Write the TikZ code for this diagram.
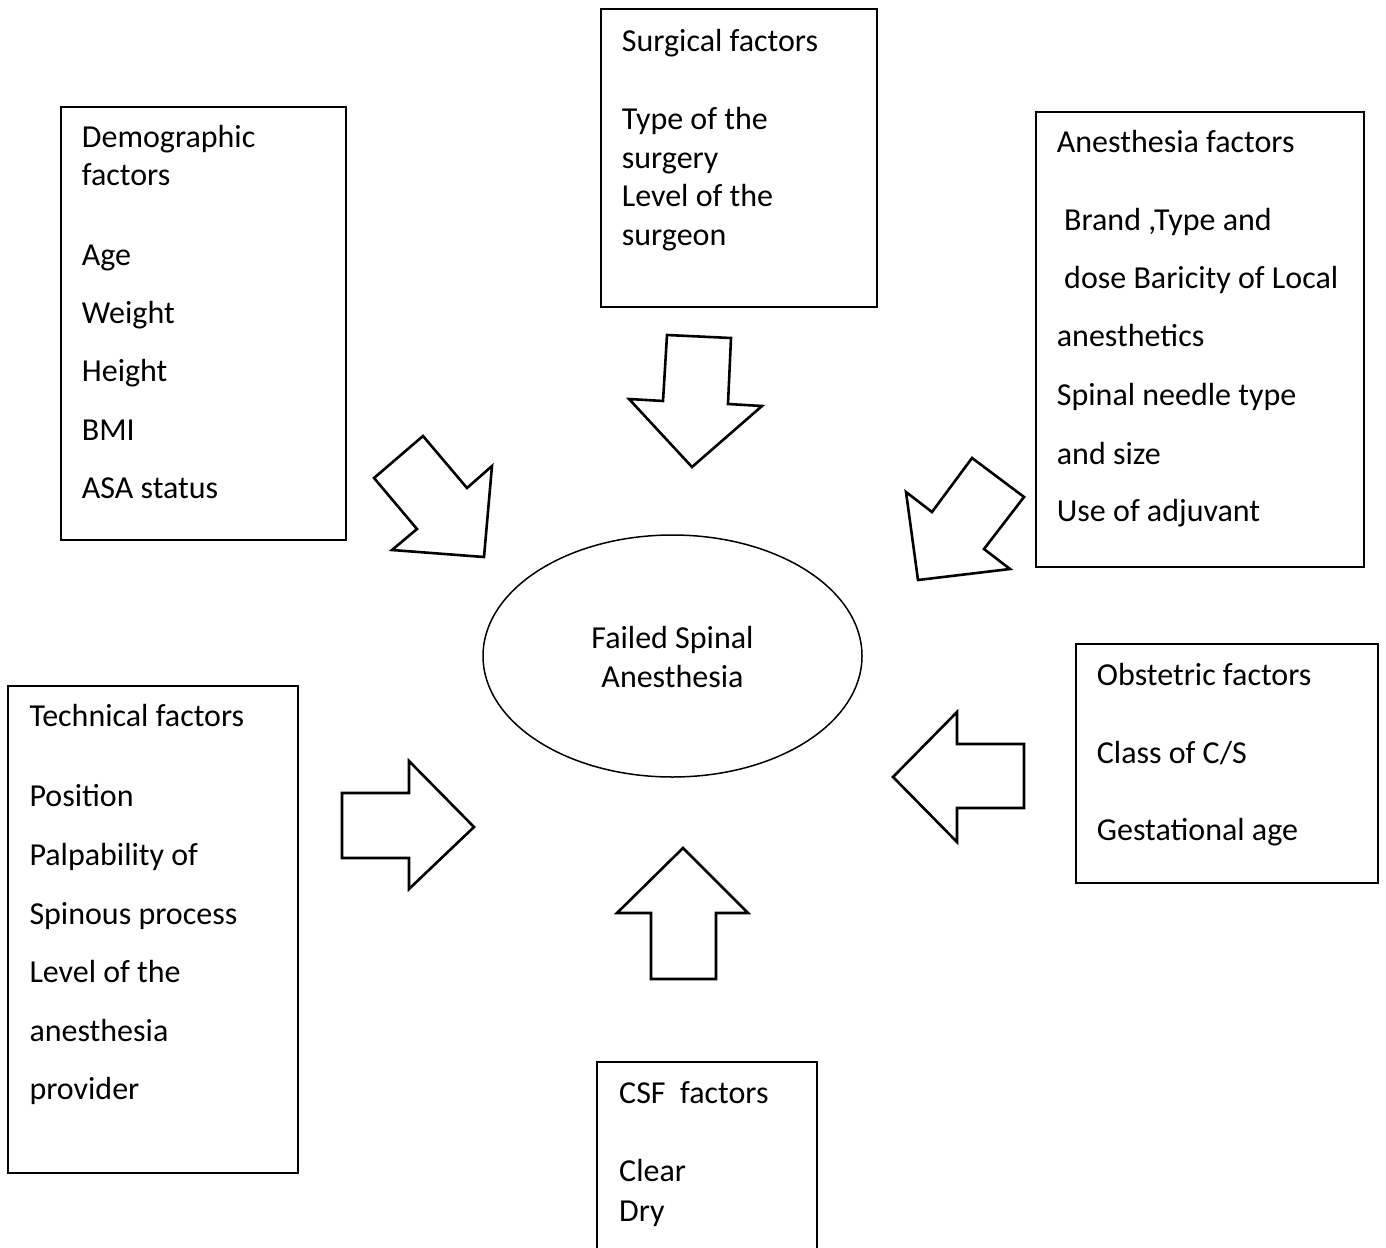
\documentclass[tikz,border=0pt]{standalone}
\usepackage{fontspec}
\setmainfont{Carlito}
\usetikzlibrary{shapes.geometric}
\begin{document}
\begin{tikzpicture}[x=1pt,y=-1pt,
  boxstyle/.style={draw=black,line width=1.4pt},
  arrowshape/.style={draw=black,line width=2.6pt,line join=miter,fill=white},
  txt/.style={anchor=base west,inner sep=0pt,font=\fontsize{32}{38}\selectfont},
  ctxt/.style={anchor=base,inner sep=0pt,font=\fontsize{32}{38}\selectfont}]
\useasboundingbox (0,0) rectangle (1386,1247);
\clip (0,0) rectangle (1386,1247);
\fill[white] (0,0) rectangle (1386,1247);

% boxes
\draw[boxstyle] (61,107) rectangle (346,540);
\draw[boxstyle] (601,9) rectangle (877,307);
\draw[boxstyle] (1036,112) rectangle (1364,567);
\draw[boxstyle] (8,686) rectangle (298,1173);
\draw[boxstyle] (1076,644) rectangle (1378,883);
\draw[boxstyle] (597,1262) -- (597,1062) -- (817,1062) -- (817,1262);

% central ellipse
\node[draw,line width=1.5pt,ellipse,minimum width=379pt,minimum height=242pt,inner sep=0pt] (fail) at (672.5,656) {};
\node[ctxt] (f1) at (672.5,648) {Failed Spinal};
\node[ctxt] (f2) at (672.5,687) {Anesthesia};

% block arrows
\draw[arrowshape] (423,436) -- (374,478) -- (417,529) -- (392,550) -- (484,557) -- (492,466) -- (467,488) -- cycle;
\draw[arrowshape] (667,335) -- (731,338) -- (728,404) -- (762,406) -- (692,467) -- (629,399) -- (663,401) -- cycle;
\draw[arrowshape] (972,458) -- (1024,497) -- (984,549) -- (1010,569) -- (918,580) -- (906,492) -- (932,512) -- cycle;
\draw[arrowshape] (342,793) -- (409,793) -- (409,761) -- (474,827) -- (409,889) -- (409,858) -- (342,858) -- cycle;
\draw[arrowshape] (1024,744) -- (957,744) -- (957,712) -- (893,777) -- (957,842) -- (957,808) -- (1024,808) -- cycle;
\draw[arrowshape] (683,848) -- (748,913) -- (716,913) -- (716,979) -- (651,979) -- (651,913) -- (617,913) -- cycle;

% Demographic
\node[txt] (d1) at (81.7,147.7) {Demographic};
\node[txt] (d2) at (81.7,185.7) {factors};
\node[txt] (d3) at (81.7,265) {Age};
\node[txt] (d4) at (81.7,323.3) {Weight};
\node[txt] (d5) at (81.7,381.7) {Height};
\node[txt] (d6) at (81.7,440) {BMI};
\node[txt] (d7) at (81.7,498.3) {ASA status};

% Surgical
\node[txt] (s1) at (621.7,51.7) {Surgical factors};
\node[txt] (s2) at (621.7,129.3) {Type of the};
\node[txt] (s3) at (621.7,168) {surgery};
\node[txt] (s4) at (621.7,206.7) {Level of the};
\node[txt] (s5) at (621.7,245.4) {surgeon};

% Anesthesia
\node[txt] (a1) at (1056.7,152.3) {Anesthesia factors};
\node[txt] (a2) at (1064,230) {Brand ,Type and};
\node[txt] (a3) at (1064,288.3) {dose Baricity of Local};
\node[txt] (a4) at (1056.7,346.7) {anesthetics};
\node[txt] (a5) at (1056.7,405) {Spinal needle type};
\node[txt] (a6) at (1056.7,464) {and size};
\node[txt] (a7) at (1056.7,521.7) {Use of adjuvant};

% Technical
\node[txt] (t1) at (29.3,726.7) {Technical factors};
\node[txt] (t2) at (29.3,806) {Position};
\node[txt] (t3) at (29.3,865.7) {Palpability of};
\node[txt] (t4) at (29.3,924.3) {Spinous process};
\node[txt] (t5) at (29.3,982.3) {Level of the};
\node[txt] (t6) at (29.3,1041) {anesthesia};
\node[txt] (t7) at (29.3,1099.3) {provider};

% Obstetric
\node[txt] (o1) at (1096.7,685.7) {Obstetric factors};
\node[txt] (o2) at (1096.7,763.3) {Class of C/S};
\node[txt] (o3) at (1096.7,840) {Gestational age};

% CSF
\node[txt] (c1) at (619,1103.3) {CSF\ \ factors};
\node[txt] (c2) at (619,1181.7) {Clear};
\node[txt] (c3) at (619,1221) {Dry};
\end{tikzpicture}
\end{document}
